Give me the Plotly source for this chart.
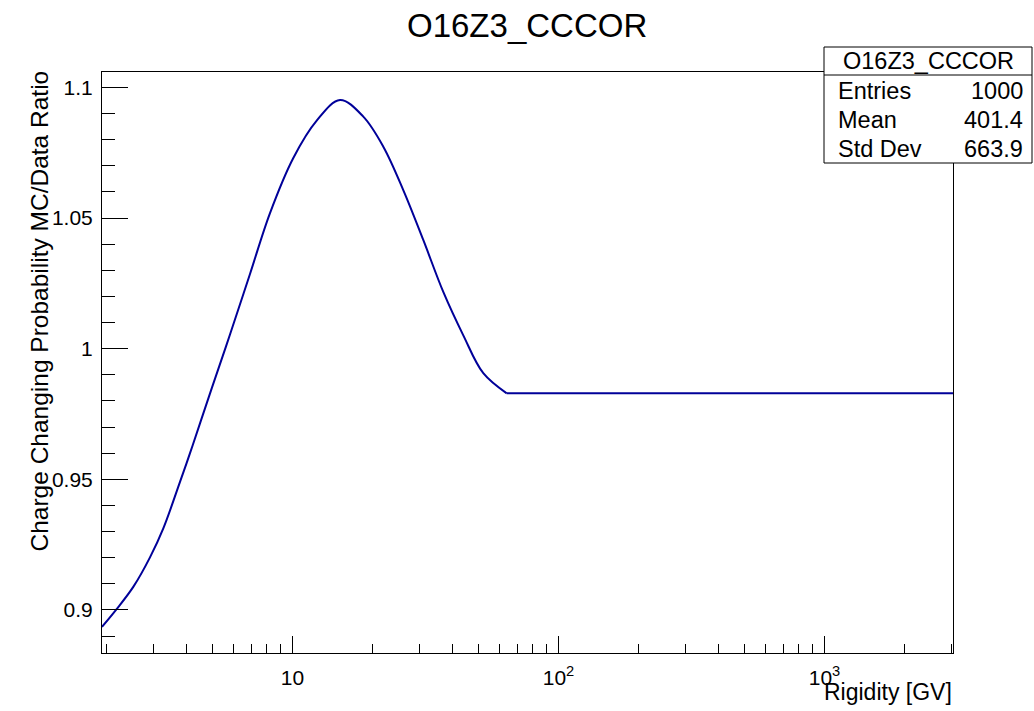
import plotly.graph_objects as go

# ---- data ----
rigidity = [1.922, 2.170, 2.520, 2.912, 3.268, 3.776, 4.118, 4.490, 4.969, 5.821, 6.921, 8.230,
            10.07, 12.33, 15.09, 18.46, 21.95, 26.09, 31.02, 36.89, 43.87, 52.16, 63.88,
            100.0, 300.0, 1000.0, 3042.0]
ratio = [0.8935, 0.9000, 0.9088, 0.9201, 0.9312, 0.9490, 0.9600, 0.9714, 0.9848, 1.0054,
         1.0286, 1.0519, 1.0730, 1.0873, 1.0952, 1.0888, 1.0773, 1.0607, 1.0416, 1.0217,
         1.0051, 0.9906, 0.9829, 0.9829, 0.9829, 0.9829, 0.9829]
plateau_start = 22  # index where the ratio becomes constant

x_major = [10, 100, 1000]
x_major_text = ["10", "10<sup>2</sup>", "10<sup>3</sup>"]
x_minor = [2, 3, 4, 5, 6, 7, 8, 9, 20, 30, 40, 50, 60, 70, 80, 90,
           200, 300, 400, 500, 600, 700, 800, 900, 2000, 3000]
y_major = [0.9, 0.95, 1.0, 1.05, 1.1]
y_major_text = ["0.9", "0.95", "1", "1.05", "1.1"]

stats_name = "O16Z3_CCCOR"
stats_labels = ["Entries", "Mean", "Std Dev"]
stats_values = ["1000", "401.4", "663.9"]

title = "O16Z3_CCCOR"
x_title = "Rigidity [GV]"
y_title = "Charge Changing Probability MC/Data Ratio"

# ---- layout geometry (pixels) ----
W, H = 1034, 711
L, R, T, B = 102, 953, 72, 653
FONT = "Liberation Sans, Arial, Helvetica, sans-serif"
LINE_COLOR = "#000099"


def px(x):
    return (x - L) / (R - L)


def py(y):
    return (B - y) / (B - T)


fig = go.Figure()
fig.add_trace(go.Scatter(
    x=rigidity[:plateau_start + 1], y=ratio[:plateau_start + 1], mode="lines",
    line=dict(color=LINE_COLOR, width=2, shape="spline", smoothing=1.0),
    showlegend=False, hoverinfo="skip"))
fig.add_trace(go.Scatter(
    x=rigidity[plateau_start:], y=ratio[plateau_start:], mode="lines",
    line=dict(color=LINE_COLOR, width=2),
    showlegend=False, hoverinfo="skip"))

fig.update_layout(
    width=W, height=H,
    margin=dict(l=L, r=W - R, t=T, b=H - B, pad=0),
    paper_bgcolor="white", plot_bgcolor="white",
    font=dict(family=FONT, color="black", size=20),
    showlegend=False,
)

fig.update_xaxes(
    type="log", range=[0.2838, 3.4832],
    showgrid=False, zeroline=False,
    showline=True, linecolor="black", linewidth=1, mirror=True,
    tickmode="array", tickvals=x_major, ticktext=x_major_text,
    ticks="inside", ticklen=17, tickcolor="black", tickwidth=1,
    tickfont=dict(size=21, family=FONT), ticklabelstandoff=6,
    minor=dict(tickvals=x_minor, ticks="inside", ticklen=9, tickcolor="black", tickwidth=1, showgrid=False),
)
fig.update_yaxes(
    range=[0.8835, 1.1059],
    showgrid=False, zeroline=False,
    showline=True, linecolor="black", linewidth=1, mirror=True,
    tickmode="array", tickvals=y_major, ticktext=y_major_text,
    ticks="inside", ticklen=26, tickcolor="black", tickwidth=1,
    tickfont=dict(size=21, family=FONT), ticklabelstandoff=4,
    minor=dict(dtick=0.01, tick0=0.9, ticks="inside", ticklen=13, tickcolor="black", tickwidth=1, showgrid=False),
)

annotations = []
# main title
annotations.append(dict(text=title, x=px(527), y=py(25), xref="paper", yref="paper",
                        xanchor="center", yanchor="middle", showarrow=False,
                        font=dict(size=33, family=FONT, color="black")))
# axis titles
annotations.append(dict(text=x_title, x=px(954), y=py(692), xref="paper", yref="paper",
                        xanchor="right", yanchor="middle", showarrow=False,
                        font=dict(size=23, family=FONT, color="black")))
annotations.append(dict(text=y_title, x=px(39), y=py(69), xref="paper", yref="paper",
                        xanchor="center", yanchor="top", textangle=-90, showarrow=False,
                        font=dict(size=24.5, family=FONT, color="black")))

# stats box
BX0, BX1, BY0, BY1, BYH = 824, 1032, 47, 163, 75
shapes = [
    dict(type="rect", xref="paper", yref="paper", x0=px(BX0), x1=px(BX1), y0=py(BY1), y1=py(BY0),
         line=dict(color="black", width=1), fillcolor="white", layer="above"),
    dict(type="line", xref="paper", yref="paper", x0=px(BX0), x1=px(BX1), y0=py(BYH), y1=py(BYH),
         line=dict(color="black", width=1), layer="above"),
]
annotations.append(dict(text=stats_name, x=px(928.5), y=py(61), xref="paper", yref="paper",
                        xanchor="center", yanchor="middle", showarrow=False,
                        font=dict(size=23.5, family=FONT, color="black")))
row_y = [91, 120, 149]
for lab, val, yy in zip(stats_labels, stats_values, row_y):
    annotations.append(dict(text=lab, x=px(836), y=py(yy), xref="paper", yref="paper",
                            xanchor="left", yanchor="middle", showarrow=False,
                            font=dict(size=23.5, family=FONT, color="black")))
    annotations.append(dict(text=val, x=px(1025), y=py(yy), xref="paper", yref="paper",
                            xanchor="right", yanchor="middle", showarrow=False,
                            font=dict(size=23.5, family=FONT, color="black")))

fig.update_layout(annotations=annotations, shapes=shapes)
fig.write_html("out.html")
